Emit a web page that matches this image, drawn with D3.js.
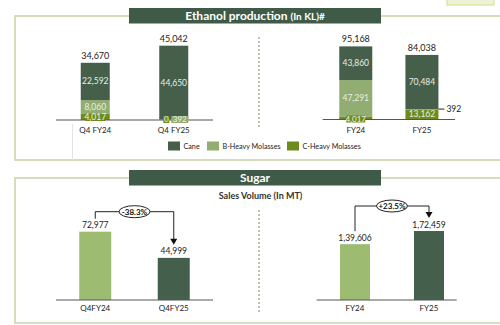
<!DOCTYPE html>
<html><head><meta charset="utf-8">
<script src="https://cdn.jsdelivr.net/npm/d3@7"></script>
<style>html,body{margin:0;padding:0;background:#fff;}svg{display:block;font-family:Lato,"Open Sans",sans-serif;}</style>
</head><body><svg id="c" width="500" height="325"></svg>
<script>
// ---- data ----
const ethQCats = ["Q4 FY24", "Q4 FY25"];
const ethYCats = ["FY24", "FY25"];
const ethSeries = ["Cane", "B-Heavy Molasses", "C-Heavy Molasses"];
const ethQCane = [22592, 44650];
const ethQBHeavy = [8060, 392];
const ethQCHeavy = [4017, 0];
const ethQTotal = [34670, 45042];
const ethYCane = [43860, 70484];
const ethYBHeavy = [47291, 392];
const ethYCHeavy = [4017, 13162];
const ethYTotal = [95168, 84038];
const sugQCats = ["Q4FY24", "Q4FY25"];
const sugQValues = [72977, 44999];
const sugQChange = "-38.3%";
const sugYCats = ["FY24", "FY25"];
const sugYValues = [139606, 172459];
const sugYChange = "+23.5%";

const fmt = d3.format(",");
function fmtIN(v){ // Indian grouping
  const s = String(v);
  if (s.length <= 3) return s;
  const last3 = s.slice(-3); let rest = s.slice(0, -3);
  return rest.replace(/\B(?=(\d{2})+(?!\d))/g, ",") + "," + last3;
}

const col = {cane:"#455f4b", b:"#91ad72", c:"#6e8c1e", sugL:"#9dbb71", sugD:"#44604c", title:"#3f5b47", border:"#c8d3a6"};
const svg = d3.select("#c");

// ---- panels ----
function panel(top, bottom, titleText, sub){
  svg.append("path").attr("d", `M500,${top}H15V${bottom}H500`).attr("fill","none").attr("stroke",col.border).attr("stroke-width",1.5);
  svg.append("rect").attr("x",129).attr("y",top-8).attr("width",252).attr("height",15.5).attr("fill",col.title);
  const t = svg.append("text").attr("x",255).attr("y",top+4).attr("text-anchor","middle").attr("fill","#fff").attr("font-weight","bold").attr("font-size",12);
  t.append("tspan").text(titleText);
  if (sub) t.append("tspan").attr("font-size",10).text(sub);
}
panel(16, 160, "Ethanol production ", "(In KL)#");
panel(178, 323, "Sugar", null);
// top right cropped badge
svg.append("rect").attr("x",447).attr("y",-3).attr("width",47).attr("height",8).attr("fill","#eef3d8").attr("stroke","#cfdc8f").attr("stroke-width",1);
// faint inner vertical line
svg.append("line").attr("x1",72.5).attr("x2",72.5).attr("y1",124).attr("y2",160).attr("stroke","#e3e3e3");

// dashed dividers
svg.append("line").attr("x1",259).attr("x2",259).attr("y1",37).attr("y2",127).attr("stroke","#6f8f5f").attr("stroke-dasharray","2,2");
svg.append("line").attr("x1",259).attr("x2",259).attr("y1",210).attr("y2",312).attr("stroke","#6f8f5f").attr("stroke-dasharray","2,2");

// ---- ethanol stacked charts ----
function ethChart(cats, cane, bh, ch, tot, xr, axisR, base, yMax, yTop, bw, rightChart){
  const x = d3.scalePoint().domain(cats).range(xr).padding(0.5);
  const y = d3.scaleLinear().domain([0, yMax]).range([base, yTop]);
  const rows = cats.map((c,i)=>({cat:c, "C-Heavy Molasses":ch[i], "B-Heavy Molasses":bh[i], "Cane":cane[i]}));
  const stack = d3.stack().keys(["C-Heavy Molasses","B-Heavy Molasses","Cane"])(rows);
  const colors = {"Cane":col.cane, "B-Heavy Molasses":col.b, "C-Heavy Molasses":col.c};
  const g = svg.append("g");
  stack.forEach(layer=>{
    g.selectAll(null).data(layer).enter().append("rect")
      .attr("x", d=>x(d.data.cat)-bw/2).attr("width", bw)
      .attr("y", d=>y(d[1])).attr("height", d=>y(d[0])-y(d[1]))
      .attr("fill", colors[layer.key]);
  });
  svg.append("line").attr("x1",axisR[0]).attr("x2",axisR[1]).attr("y1",base).attr("y2",base).attr("stroke","#555").attr("stroke-width",1);
  // category labels
  cats.forEach(c=>svg.append("text").attr("x",x(c)).attr("y",base+13).attr("text-anchor","middle").attr("font-size",8).attr("fill","#222").text(c));
  // totals
  cats.forEach((c,i)=>svg.append("text").attr("x",x(c)).attr("y",y(tot[i])-4).attr("text-anchor","middle").attr("font-size",9).attr("fill","#222").text(fmt(tot[i])));
  // segment labels
  stack.forEach(layer=>{
    layer.forEach(d=>{
      const v = d[1]-d[0]; const cx = x(d.data.cat);
      const h = y(d[0])-y(d[1]);
      const key = layer.key;
      if (h >= 6) {
        if (h < 8) { // boxed small label
          const bwid = 20;
          svg.append("rect").attr("x",cx-bwid/2).attr("y",base-6.5).attr("width",bwid).attr("height",7.5).attr("fill",colors[key]);
          svg.append("text").attr("x",cx).attr("y",base-0.3).attr("text-anchor","middle").attr("font-size",8.5).attr("fill","#eef2e6").text(fmt(v));
        } else {
          svg.append("text").attr("x",cx).attr("y",(y(d[0])+y(d[1]))/2+3).attr("text-anchor","middle").attr("font-size",8.5).attr("fill","#e9eee3").text(fmt(v));
        }
      } else if (key === "C-Heavy Molasses") {
        const isZero = v === 0;
        const bwid = isZero ? 6 : 19;
        const bx = isZero ? cx - bw/2 + 4 : cx - bwid/2;
        svg.append("rect").attr("x",bx).attr("y",base-4).attr("width",bwid).attr("height",7).attr("fill",colors[key]);
        svg.append("text").attr("x",bx+bwid/2).attr("y",base+2.3).attr("text-anchor","middle").attr("font-size",8).attr("fill","#eef2e6").text(fmt(v));
      } else if (key === "B-Heavy Molasses") {
        if (!rightChart) {
          const bx = cx - bw/2 + 12, bwid = 17;
          svg.append("rect").attr("x",bx).attr("y",base-4).attr("width",bwid).attr("height",7).attr("fill",colors[key]);
          svg.append("text").attr("x",bx+bwid/2).attr("y",base+2.3).attr("text-anchor","middle").attr("font-size",8).attr("fill","#eef2e6").text(fmt(v));
        } else {
          const yy = y(d[1]);
          svg.append("line").attr("x1",cx+bw/2).attr("x2",cx+bw/2+6).attr("y1",yy).attr("y2",yy).attr("stroke","#222").attr("stroke-width",1);
          svg.append("text").attr("x",cx+bw/2+8).attr("y",yy+3).attr("font-size",8.5).attr("fill","#222").text(fmt(v));
        }
      }
    });
  });
}
ethChart(ethQCats, ethQCane, ethQBHeavy, ethQCHeavy, ethQTotal, [56,213], [56,213], 120, 60000, 21, 29, false);
ethChart(ethYCats, ethYCane, ethYBHeavy, ethYCHeavy, ethYTotal, [322.7,455], [322.7,455], 119.5, 120000, 27.3, 33, true);

// legend
const legX = [168, 207, 287];
ethSeries.forEach((s,i)=>{
  const c = [col.cane, col.b, col.c][i];
  svg.append("rect").attr("x",legX[i]).attr("y",141.5).attr("width",12).attr("height",9).attr("fill",c);
  svg.append("text").attr("x",legX[i]+15.5).attr("y",149).attr("font-size",7.2).attr("fill","#222").text(s);
});

// ---- sugar ----
svg.append("text").attr("x",260.5).attr("y",199).attr("text-anchor","middle").attr("font-size",9).attr("font-weight","bold").attr("fill","#333").text("Sales Volume (In MT)");

function sugChart(cats, vals, change, xr, axisR, yMax, yTop, bw, labelFn, arrowY){
  const base = 300;
  const x = d3.scalePoint().domain(cats).range(xr).padding(0.5);
  const y = d3.scaleLinear().domain([0,yMax]).range([base, yTop]);
  const colors = [col.sugL, col.sugD];
  svg.selectAll(null).data(vals).enter().append("rect")
    .attr("x",(d,i)=>x(cats[i])-bw/2).attr("width",bw)
    .attr("y",d=>y(d)).attr("height",d=>base-y(d)).attr("fill",(d,i)=>colors[i]);
  svg.append("line").attr("x1",axisR[0]).attr("x2",axisR[1]).attr("y1",base).attr("y2",base).attr("stroke","#555");
  cats.forEach((c,i)=>{
    svg.append("text").attr("x",x(c)).attr("y",base+11).attr("text-anchor","middle").attr("font-size",8).attr("fill","#222").text(c);
    svg.append("text").attr("x",x(c)).attr("y",y(vals[i])-3.5).attr("text-anchor","middle").attr("font-size",8.5).attr("fill","#222").text(labelFn(vals[i]));
  });
  const x0 = x(cats[0]), x1 = x(cats[1]);
  const y0 = y(vals[0]) - 13, y1 = y(vals[1]) - 14;
  svg.append("path").attr("d",`M${x0},${y0}V${arrowY}H${x1}V${y1-4}`).attr("fill","none").attr("stroke","#222").attr("stroke-width",1);
  svg.append("path").attr("d",`M${x1-3.5},${y1-5}L${x1+3.5},${y1-5}L${x1},${y1+1}Z`).attr("fill","#111");
  const mx = (x0+x1)/2;
  svg.append("ellipse").attr("cx",mx).attr("cy",arrowY).attr("rx",15.5).attr("ry",6).attr("fill","#fff").attr("stroke","#222").attr("stroke-width",1);
  svg.append("text").attr("x",mx).attr("y",arrowY+3).attr("text-anchor","middle").attr("font-size",8).attr("font-weight","bold").attr("fill","#111").text(change);
}
sugChart(sugQCats, sugQValues, sugQChange, [56,213], [56,213], 80000, 225.1, 32, fmt, 211.7);
sugChart(sugYCats, sugYValues, sugYChange, [318,466], [316.7,456.7], 200000, 220, 30, fmtIN, 206);
</script></body></html>
